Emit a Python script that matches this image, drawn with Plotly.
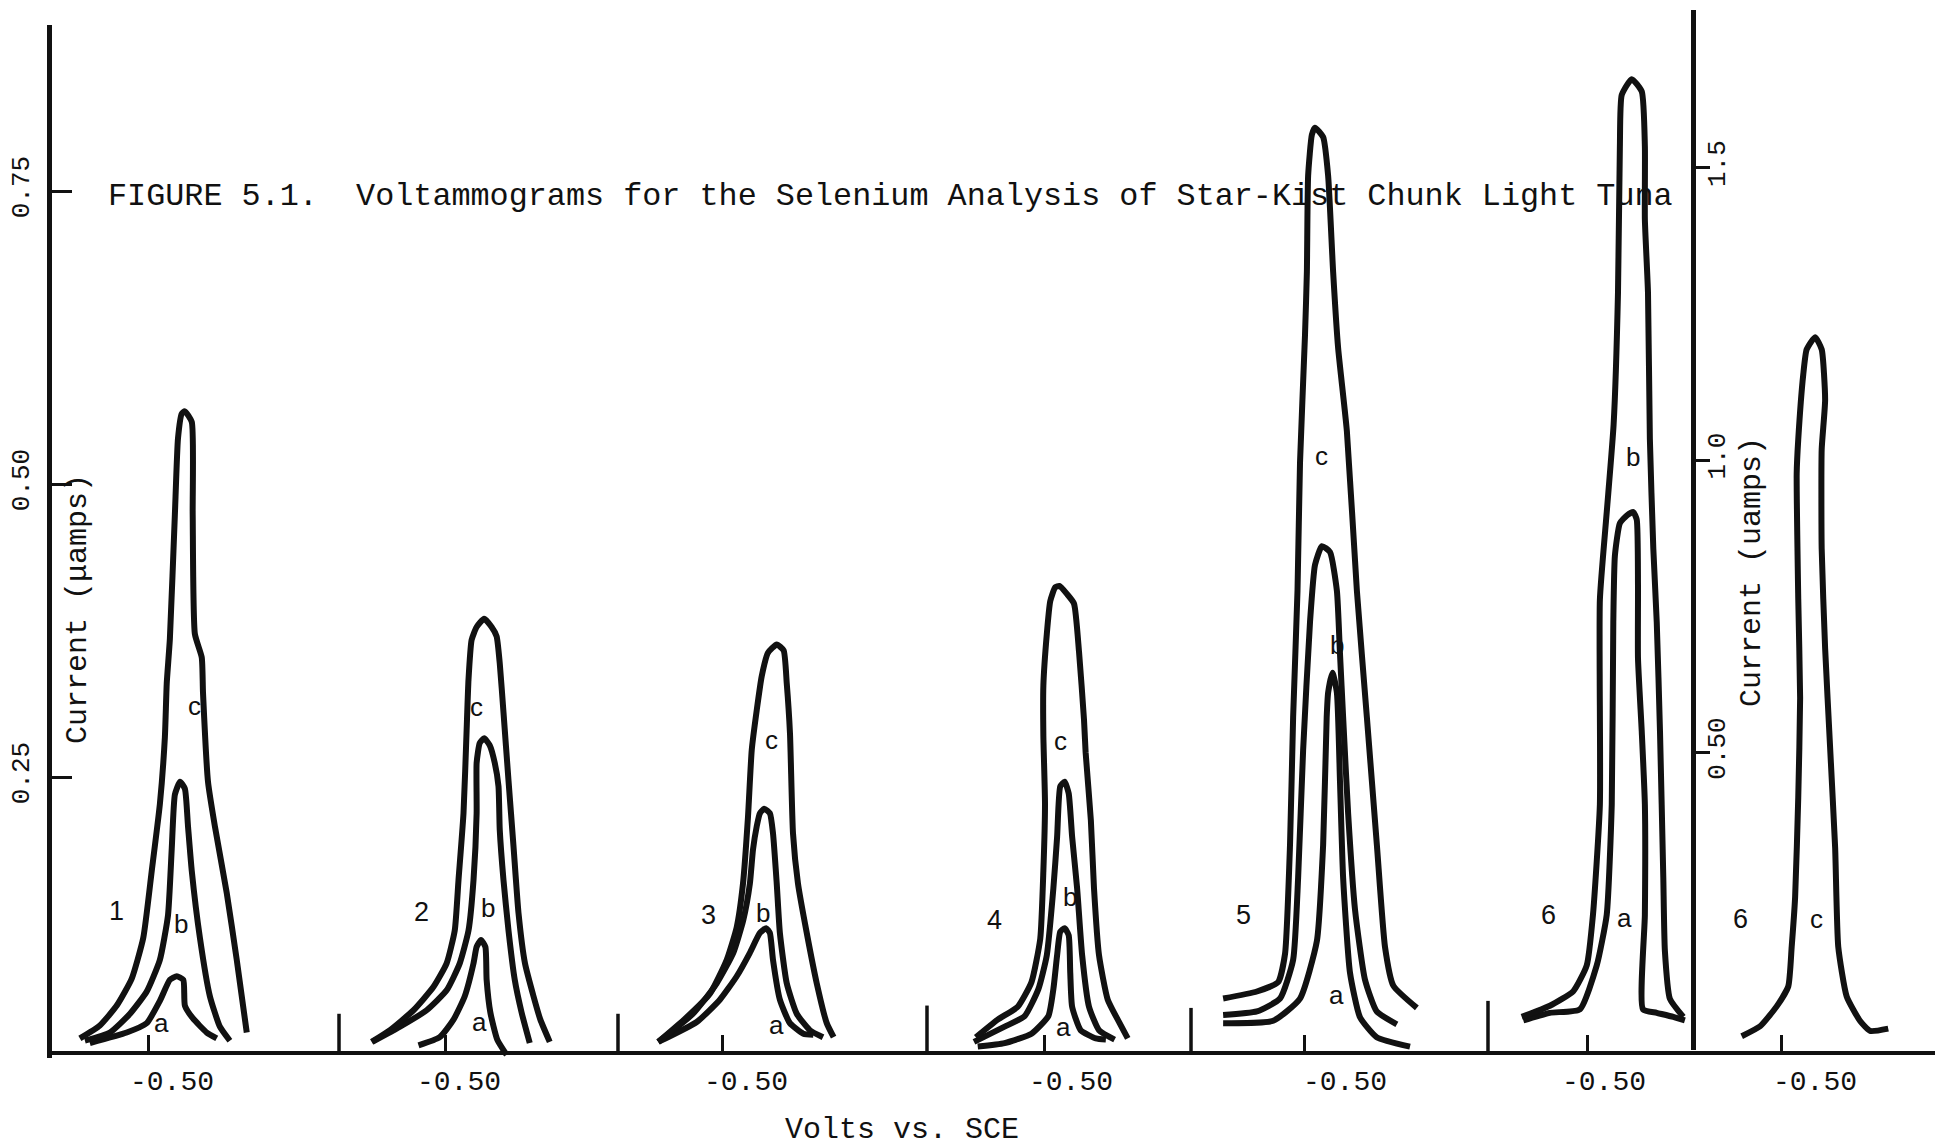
import plotly.graph_objects as go

# ---------------------------------------------------------------
# Traced voltammograms: potential (V vs. SCE) and current (uA)
# ---------------------------------------------------------------
# Run 1
V_1A = [-0.407, -0.466, -0.498, -0.519, -0.535, -0.546, -0.5565, -0.559, -0.572, -0.594, -0.610]
I_1A = [0.023, 0.032, 0.040, 0.059, 0.077, 0.080, 0.077, 0.055, 0.044, 0.032, 0.027]
V_1B = [-0.399, -0.439, -0.4712, -0.498, -0.519, -0.532, -0.538, -0.543, -0.5512, -0.559,
        -0.564, -0.570, -0.583, -0.599, -0.615, -0.631]
I_1B = [0.025, 0.032, 0.048, 0.067, 0.094, 0.132, 0.189, 0.235, 0.246, 0.240,
        0.208, 0.170, 0.113, 0.063, 0.037, 0.025]
V_1C = [-0.391, -0.423, -0.450, -0.474, -0.4925, -0.506, -0.519, -0.527, -0.530, -0.535,
        -0.543, -0.548, -0.554, -0.559, -0.570, -0.5715, -0.575, -0.586, -0.588, -0.596,
        -0.607, -0.626, -0.642, -0.658]
I_1C = [0.027, 0.038, 0.055, 0.078, 0.113, 0.170, 0.227, 0.284, 0.330, 0.368,
        0.474, 0.539, 0.560, 0.562, 0.553, 0.474, 0.372, 0.352, 0.322, 0.246,
        0.208, 0.151, 0.094, 0.032]

# Run 2
V_2A = [-0.456, -0.490, -0.512, -0.530, -0.544, -0.549, -0.556, -0.563, -0.565, -0.571, -0.582, -0.597]
I_2A = [0.021, 0.028, 0.043, 0.063, 0.091, 0.105, 0.111, 0.105, 0.077, 0.049, 0.026, 0.013]
V_2B = [-0.382, -0.4264, -0.469, -0.501, -0.522, -0.536, -0.544, -0.549, -0.549, -0.554,
        -0.561, -0.570, -0.578, -0.584, -0.586, -0.592, -0.600, -0.610, -0.621, -0.634]
I_2B = [0.024, 0.037, 0.051, 0.068, 0.091, 0.119, 0.162, 0.219, 0.262, 0.279,
        0.283, 0.277, 0.262, 0.242, 0.205, 0.162, 0.119, 0.077, 0.049, 0.023]
V_2C = [-0.381, -0.4104, -0.448, -0.480, -0.501, -0.514, -0.520, -0.528, -0.533, -0.536,
        -0.541, -0.549, -0.561, -0.573, -0.581, -0.586, -0.592, -0.600, -0.608, -0.616,
        -0.6264, -0.640, -0.651, -0.666]
I_2C = [0.024, 0.034, 0.051, 0.071, 0.091, 0.119, 0.162, 0.219, 0.290, 0.333,
        0.367, 0.378, 0.385, 0.378, 0.370, 0.347, 0.305, 0.247, 0.191, 0.134,
        0.091, 0.063, 0.043, 0.024]

# Run 3
V_3A = [-0.3965, -0.458, -0.495, -0.522, -0.543, -0.559, -0.569, -0.575, -0.580, -0.591,
        -0.607, -0.6285, -0.6445]
I_3A = [0.024, 0.041, 0.060, 0.080, 0.100, 0.117, 0.121, 0.117, 0.094, 0.060,
        0.040, 0.031, 0.030]
V_3B = [-0.3965, -0.452, -0.490, -0.5165, -0.5325, -0.543, -0.548, -0.554, -0.559, -0.566,
        -0.575, -0.580, -0.586, -0.591, -0.602, -0.618, -0.639, -0.660]
I_3B = [0.024, 0.048, 0.074, 0.100, 0.128, 0.159, 0.188, 0.208, 0.219, 0.223,
        0.219, 0.202, 0.159, 0.117, 0.074, 0.048, 0.034, 0.028]
V_3C = [-0.3965, -0.442, -0.479, -0.506, -0.522, -0.532, -0.540, -0.546, -0.554, -0.562,
        -0.572, -0.586, -0.597, -0.602, -0.6072, -0.612, -0.620, -0.634, -0.650, -0.666, -0.677]
I_3C = [0.024, 0.045, 0.065, 0.094, 0.122, 0.159, 0.216, 0.273, 0.307, 0.336,
        0.356, 0.363, 0.358, 0.330, 0.287, 0.202, 0.159, 0.117, 0.074, 0.040, 0.028]

# Run 4
V_4A = [-0.394, -0.437, -0.480, -0.507, -0.515, -0.521, -0.526, -0.533, -0.5395, -0.542,
        -0.545, -0.5586, -0.583, -0.599]
I_4A = [0.020, 0.023, 0.031, 0.046, 0.069, 0.098, 0.118, 0.121, 0.115, 0.083,
        0.054, 0.034, 0.027, 0.026]
V_4B = [-0.388, -0.437, -0.469, -0.491, -0.5045, -0.515, -0.521, -0.526, -0.533, -0.5395,
        -0.545, -0.553, -0.561, -0.572, -0.588, -0.613]
I_4B = [0.024, 0.037, 0.046, 0.069, 0.098, 0.155, 0.199, 0.242, 0.246, 0.236,
        0.199, 0.155, 0.098, 0.054, 0.034, 0.026]
V_4C = [-0.391, -0.426, -0.458, -0.480, -0.494, -0.499, -0.5016, -0.499, -0.499, -0.5045,
        -0.510, -0.518, -0.5245, -0.537, -0.548, -0.556, -0.564, -0.5666, -0.575, -0.580,
        -0.588, -0.602, -0.621, -0.634]
I_4C = [0.028, 0.043, 0.054, 0.075, 0.112, 0.170, 0.227, 0.285, 0.328, 0.372,
        0.400, 0.412, 0.413, 0.406, 0.398, 0.357, 0.299, 0.271, 0.213, 0.155,
        0.098, 0.060, 0.040, 0.027]

# Run 5
V_5A = [-0.369, -0.449, -0.492, -0.519, -0.529, -0.5347, -0.537, -0.544, -0.551, -0.556,
        -0.561, -0.572, -0.588, -0.6147, -0.668]
I_5A = [0.040, 0.042, 0.061, 0.110, 0.192, 0.301, 0.322, 0.339, 0.322, 0.246,
        0.164, 0.083, 0.045, 0.028, 0.020]
V_5B = [-0.369, -0.423, -0.460, -0.481, -0.489, -0.497, -0.508, -0.516, -0.527, -0.540,
        -0.551, -0.556, -0.561, -0.569, -0.580, -0.596, -0.6147, -0.647]
I_5B = [0.047, 0.050, 0.061, 0.094, 0.164, 0.273, 0.382, 0.431, 0.447, 0.442,
        0.409, 0.355, 0.301, 0.219, 0.137, 0.077, 0.050, 0.039]
V_5C = [-0.369, -0.423, -0.457, -0.468, -0.476, -0.481, -0.488, -0.492, -0.500, -0.503,
        -0.505, -0.511, -0.516, -0.529, -0.537, -0.545, -0.553, -0.567, -0.583, -0.599,
        -0.615, -0.628, -0.6413, -0.679]
I_5C = [0.061, 0.067, 0.075, 0.099, 0.192, 0.301, 0.409, 0.518, 0.627, 0.681,
        0.763, 0.798, 0.804, 0.796, 0.763, 0.681, 0.616, 0.545, 0.409, 0.301,
        0.192, 0.105, 0.072, 0.053]

# Run 6 (right-hand current scale)
V_6A = [-0.3965, -0.439, -0.487, -0.514, -0.530, -0.538, -0.5405, -0.543, -0.551, -0.562,
        -0.5725, -0.578, -0.580, -0.580, -0.586, -0.591, -0.591, -0.588, -0.610, -0.6365, -0.655]
I_6A = [0.042, 0.055, 0.061, 0.136, 0.223, 0.411, 0.723, 0.836, 0.892, 0.905,
        0.911, 0.898, 0.786, 0.661, 0.536, 0.411, 0.223, 0.061, 0.055, 0.048, 0.042]
V_6B = [-0.394, -0.439, -0.4765, -0.498, -0.508, -0.519, -0.519, -0.530, -0.541, -0.548,
        -0.551, -0.554, -0.570, -0.586, -0.591, -0.591, -0.596, -0.599, -0.6045, -0.610,
        -0.6152, -0.6205, -0.623, -0.631, -0.6525]
I_6B = [0.048, 0.067, 0.092, 0.136, 0.223, 0.411, 0.761, 0.911, 1.061, 1.286,
        1.536, 1.624, 1.651, 1.630, 1.536, 1.411, 1.286, 1.036, 0.849, 0.723,
        0.536, 0.286, 0.161, 0.079, 0.048]
V_6C = [-0.4355, -0.465, -0.4915, -0.510, -0.5155, -0.521, -0.526, -0.529, -0.526, -0.5235,
        -0.526, -0.534, -0.5395, -0.553, -0.5635, -0.569, -0.5635, -0.5635, -0.569, -0.577,
        -0.585, -0.590, -0.6035, -0.625, -0.641, -0.670]
I_6C = [0.015, 0.032, 0.066, 0.100, 0.168, 0.253, 0.423, 0.593, 0.763, 0.976,
        1.035, 1.146, 1.189, 1.210, 1.189, 1.103, 1.018, 0.848, 0.678, 0.508,
        0.338, 0.168, 0.083, 0.041, 0.024, 0.028]

# Hand-written run numbers and curve letters: (panel, text, potential, current)
LABEL_PANEL = [0, 0, 0, 0, 1, 1, 1, 1, 2, 2, 2, 2, 3, 3, 3, 3, 4, 4, 4, 4, 5, 5, 5, 6, 6]
LABEL_TEXT = ["1", "c", "b", "a", "2", "c", "b", "a", "3", "c", "b", "a",
              "4", "c", "b", "a", "5", "c", "b", "a", "6", "a", "b", "6", "c"]
LABEL_V = [-0.450, -0.575, -0.553, -0.522, -0.461, -0.549, -0.568, -0.554,
           -0.4765, -0.578, -0.5645, -0.586, -0.421, -0.526, -0.542, -0.5315,
           -0.401, -0.527, -0.551, -0.551, -0.4365, -0.559, -0.5725, -0.433, -0.5555]
LABEL_I = [0.136, 0.311, 0.125, 0.040, 0.135, 0.310, 0.138, 0.041,
           0.132, 0.282, 0.134, 0.038, 0.128, 0.281, 0.148, 0.037,
           0.132, 0.524, 0.363, 0.064, 0.223, 0.217, 1.005, 0.215, 0.215]

# Axis tick values / labels
X_TICK = [-0.50]
X_TICK_TEXT = ["-0.50"]
Y_LEFT_TICKS = [0.25, 0.50, 0.75]
Y_LEFT_TEXT = ["0.25", "0.50", "0.75"]
Y_RIGHT_TICKS = [0.50, 1.0, 1.5]
Y_RIGHT_TEXT = ["0.50", "1.0", "1.5"]

CURVES = [
    (0, V_1A, I_1A), (0, V_1B, I_1B), (0, V_1C, I_1C),
    (1, V_2A, I_2A), (1, V_2B, I_2B), (1, V_2C, I_2C),
    (2, V_3A, I_3A), (2, V_3B, I_3B), (2, V_3C, I_3C),
    (3, V_4A, I_4A), (3, V_4B, I_4B), (3, V_4C, I_4C),
    (4, V_5A, I_5A), (4, V_5B, I_5B), (4, V_5C, I_5C),
    (5, V_6A, I_6A), (5, V_6B, I_6B),
    (6, V_6C, I_6C),
]

# ---------------------------------------------------------------
# Layout
# ---------------------------------------------------------------
MONO = "Liberation Mono, Courier New, monospace"
SANS = "Liberation Sans, Arial, sans-serif"
INK = "#111111"

PANEL_AXES = [("x", "y"), ("x2", "y"), ("x3", "y"), ("x4", "y"), ("x5", "y"),
              ("x6", "y2"), ("x7", "y2")]
PANEL_DOMAINS = [[0.0, 0.15242], [0.15242, 0.30058], [0.30058, 0.46468],
                 [0.46468, 0.60489], [0.60489, 0.76261], [0.76261, 0.87148],
                 [0.87148, 1.0]]
PANEL_RANGES = [[-0.3464, -0.8056], [-0.3288, -0.7752], [-0.332, -0.8264],
                [-0.3128, -0.7352], [-0.3176, -0.7928], [-0.34, -0.668],
                [-0.3576, -0.7448]]
# the potential axes run toward more negative values on the right,
# so a negative shift moves a label to the right of its tick
PANEL_LABEL_SHIFT = [-24, -13, -23, -27, -40, -16, -33]
BASELINE_POS = 0.01604

fig = go.Figure()

for panel, v, i in CURVES:
    xa, ya = PANEL_AXES[panel]
    fig.add_trace(go.Scatter(
        x=v, y=i, xaxis=xa, yaxis=ya, mode="lines",
        line=dict(color=INK, width=6, shape="spline", smoothing=0.5),
        hoverinfo="skip", showlegend=False,
    ))

layout = dict(
    width=1935, height=1147,
    margin=dict(l=52, r=0, t=10, b=77),
    paper_bgcolor="white", plot_bgcolor="rgba(0,0,0,0)",
    showlegend=False,
)

for k, (dom, rng, shift) in enumerate(zip(PANEL_DOMAINS, PANEL_RANGES, PANEL_LABEL_SHIFT)):
    name = "xaxis" if k == 0 else f"xaxis{k + 1}"
    layout[name] = dict(
        domain=dom, range=rng, anchor="free", position=BASELINE_POS,
        showline=True, linecolor=INK, linewidth=3.5,
        ticks="inside", ticklen=16, tickwidth=3, tickcolor=INK,
        tickvals=X_TICK, ticktext=X_TICK_TEXT,
        tickfont=dict(family=MONO, size=28, color=INK),
        ticklabelshift=shift, ticklabelstandoff=2,
        showgrid=False, zeroline=False, fixedrange=True,
    )

layout["yaxis"] = dict(
    domain=[0.0113, 0.98585], range=[0.01024, 0.89164], anchor="x",
    showline=True, linecolor=INK, linewidth=4.5,
    ticks="inside", ticklen=20, tickwidth=3, tickcolor=INK,
    tickvals=Y_LEFT_TICKS, ticktext=Y_LEFT_TEXT, tickangle=-90,
    tickfont=dict(family=MONO, size=26, color=INK), ticklabelstandoff=8,
    showgrid=False, zeroline=False, fixedrange=True,
)
layout["yaxis2"] = dict(
    domain=[0.01887, 1.0], range=[-0.00855, 1.76923], anchor="free",
    position=0.87148, side="right",
    showline=True, linecolor=INK, linewidth=4.5,
    ticks="outside", ticklen=14, tickwidth=3, tickcolor=INK,
    tickvals=Y_RIGHT_TICKS, ticktext=Y_RIGHT_TEXT, tickangle=-90,
    tickfont=dict(family=MONO, size=26, color=INK), ticklabelstandoff=-16,
    showgrid=False, zeroline=False, fixedrange=True,
)

# short separators standing on the baseline between runs
SEP_TOPS = [0.048, 0.048, 0.055, 0.053, 0.059]
shapes = []
for k, top in enumerate(SEP_TOPS):
    shapes.append(dict(
        type="line", xref=f"x{k + 2} domain", yref="y",
        x0=0, x1=0, y0=0.0145, y1=top,
        line=dict(color=INK, width=3.5),
    ))
layout["shapes"] = shapes

annotations = []
for p, t, v, i in zip(LABEL_PANEL, LABEL_TEXT, LABEL_V, LABEL_I):
    xa, ya = PANEL_AXES[p]
    annotations.append(dict(
        x=v, y=i, xref=xa, yref=ya, text=t, showarrow=False,
        xanchor="center", yanchor="middle",
        font=dict(family=SANS, size=27 if t.isdigit() else 26, color=INK),
    ))

annotations += [
    dict(text="FIGURE 5.1.  Voltammograms for the Selenium Analysis of Star-Kist Chunk Light Tuna",
         xref="paper", yref="paper", x=0.02868, y=0.8236, xanchor="left", yanchor="middle",
         showarrow=False, font=dict(family=MONO, size=31.8, color=INK)),
    dict(text="Current (\u03bcamps)", xref="paper", yref="paper", x=0.0138, y=0.4349,
         xanchor="center", yanchor="middle",
         textangle=-90, showarrow=False, font=dict(family=MONO, size=30, color=INK)),
    dict(text="Current (uamps)", xref="paper", yref="paper", x=0.9028, y=0.4698,
         xanchor="center", yanchor="middle",
         textangle=-90, showarrow=False, font=dict(family=MONO, size=30, color=INK)),
    dict(text="Volts vs. SCE", xref="paper", yref="paper", x=0.4514, y=-0.0566,
         xanchor="center", yanchor="middle",
         showarrow=False, font=dict(family=MONO, size=30, color=INK)),
]
layout["annotations"] = annotations

fig.update_layout(**layout)
fig.write_html("out.html")
